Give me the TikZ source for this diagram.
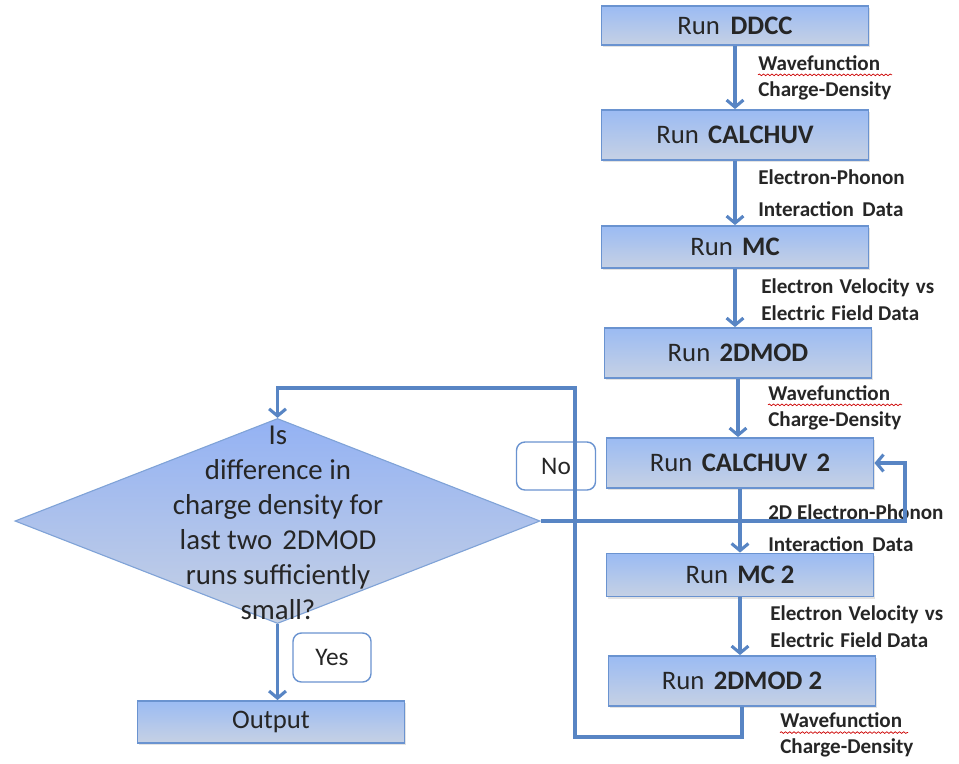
\documentclass[tikz,border=0pt]{standalone}
\usepackage{fontspec}
\setmainfont{Carlito}
\usetikzlibrary{arrows.meta,shapes.geometric,shadows,decorations.pathmorphing}

\definecolor{boxtop}{RGB}{155,187,243}
\definecolor{boxbot}{RGB}{198,209,228}
\definecolor{boxline}{RGB}{106,147,208}
\definecolor{flowline}{RGB}{88,133,196}
\definecolor{ink}{RGB}{38,38,38}

\tikzset{
	runbox/.style={draw=boxline, line width=1.3pt, top color=boxtop, bottom color=boxbot,
		minimum width=6.675cm, inner sep=0pt, text=ink,
		font=\fontsize{19}{23}\selectfont,
		drop shadow={shadow xshift=1.2pt, shadow yshift=-1.5pt, opacity=0.22}},
	answer/.style={draw=boxline, line width=1pt, rounded corners=6pt, fill=white,
		inner sep=0pt, text=ink, font=\fontsize{18}{22}\selectfont},
	datalabel/.style={anchor=west, align=left, inner sep=0pt, text=ink,
		font=\bfseries\fontsize{15}{19}\selectfont},
	flow/.style={draw=flowline, line width=2.2pt, -{Straight Barb[length=5pt,width=12pt]}},
	squiggle/.style={draw=red!80!black, line width=0.5pt,
		decorate, decoration={snake, amplitude=0.6pt, segment length=3pt}}
}

\begin{document}
\begin{tikzpicture}[x=0.025cm, y=-0.025cm]
	%%%%% START %%%%%
	\useasboundingbox (0, 0) rectangle (959, 763);
	
	\node[runbox, minimum height=0.975cm] (ddcc) at (735, 25.5) {Run\hspace{0.4em}\textbf{DDCC}};
	\node[runbox, minimum height=1.25cm] (calchuv) at (735, 135) {Run\hspace{0.35em}\textbf{CALCHUV}};
	\node[runbox, minimum height=1.05cm] (mc) at (735, 247) {Run\hspace{0.35em}\textbf{MC}};
	\node[runbox, minimum height=1.25cm] (twodmod) at (738, 353) {Run\hspace{0.35em}\textbf{2DMOD}};
	\node[runbox, minimum height=1.25cm] (calchuvb) at (740, 463) {Run\hspace{0.35em}\textbf{CALCHUV\hspace{0.35em}2}};
	\node[runbox, minimum height=1.075cm] (mcb) at (740, 575) {Run\hspace{0.35em}\textbf{MC 2}};
	\node[runbox, minimum height=1.25cm] (twodmodb) at (742, 681) {Run\hspace{0.35em}\textbf{2DMOD 2}};
	\node[runbox, minimum height=1.05cm] (output) at (271, 722) {Output};
	
	\node[datalabel] (wave) at (758, 78) {Wavefunction\\Charge-Density};
	\node[datalabel, font=\bfseries\fontsize{15}{22.7}\selectfont] (phonon) at (758, 193) {Electron-Phonon\\Interaction\hspace{0.4em}Data};
	\node[datalabel] (velo) at (761, 300) {Electron\hspace{0.3em}Velocity\hspace{0.3em}vs\\Electric\hspace{0.3em}Field Data};
	\node[datalabel] (waveb) at (768, 408) {Wavefunction\\Charge-Density};
	\node[datalabel, font=\bfseries\fontsize{15}{22.7}\selectfont] (phononb) at (768, 528) {2D Electron-Phonon\\Interaction\hspace{0.4em}Data};
	\node[datalabel] (velob) at (770, 627) {Electron\hspace{0.3em}Velocity\hspace{0.3em}vs\\Electric\hspace{0.3em}Field Data};
	\node[datalabel, font=\bfseries\fontsize{15}{18}\selectfont] (wavec) at (780, 735) {Wavefunction\\Charge-Density};
	
	\draw[squiggle] ([yshift=-14pt]wave.north west) -- ++(134, 0);
	\draw[squiggle] ([yshift=-14pt]waveb.north west) -- ++(134, 0);
	\draw[squiggle] ([yshift=-14pt]wavec.north west) -- ++(128, 0);
	
	% the test
	\node[diamond, draw=boxline!85, line width=0.8pt, top color=boxtop!95!blue, bottom color=boxbot,
		minimum width=13.125cm, minimum height=5.125cm, inner sep=0pt] (check) at (277.5, 521) {};
	\node[align=center, text=ink, font=\fontsize{20.5}{24.8}\selectfont] (checktext) at (278, 523)
		{Is\\difference in\\charge density for\\last two\hspace{0.35em}2DMOD\\runs\hspace{0.2em}sufficiently\\small?};
	
	\node[answer, minimum width=1.975cm, minimum height=1.2cm] (no) at (556, 466) {No};
	\node[answer, minimum width=1.95cm, minimum height=1.225cm] (yes) at (332, 657.5) {Yes};
	
	\coordinate (loopbot) at (575, 737);
	\coordinate (looptop) at (575, 388);
	\coordinate (noturn) at (905, 463);
	
	\draw[flow] (ddcc.south) -- (ddcc.south |- calchuv.north);
	\draw[flow] (calchuv.south) -- (calchuv.south |- mc.north);
	\draw[flow] (mc.south) -- (mc.south |- twodmod.north);
	\draw[flow] (twodmod.south) -- (twodmod.south |- calchuvb.north);
	\draw[flow] (calchuvb.south) -- (calchuvb.south |- mcb.north);
	\draw[flow] (mcb.south) -- (mcb.south |- twodmodb.north);
	
	\draw[flow] (twodmodb.south) |- (loopbot) -- (looptop) -| (check.north);
	\draw[flow] (check.east) -| (noturn) -- (calchuvb.east);
	\draw[flow] (check.south) -- (check.south |- output.north);
	
	%%%%% END %%%%%
\end{tikzpicture}
\end{document}
